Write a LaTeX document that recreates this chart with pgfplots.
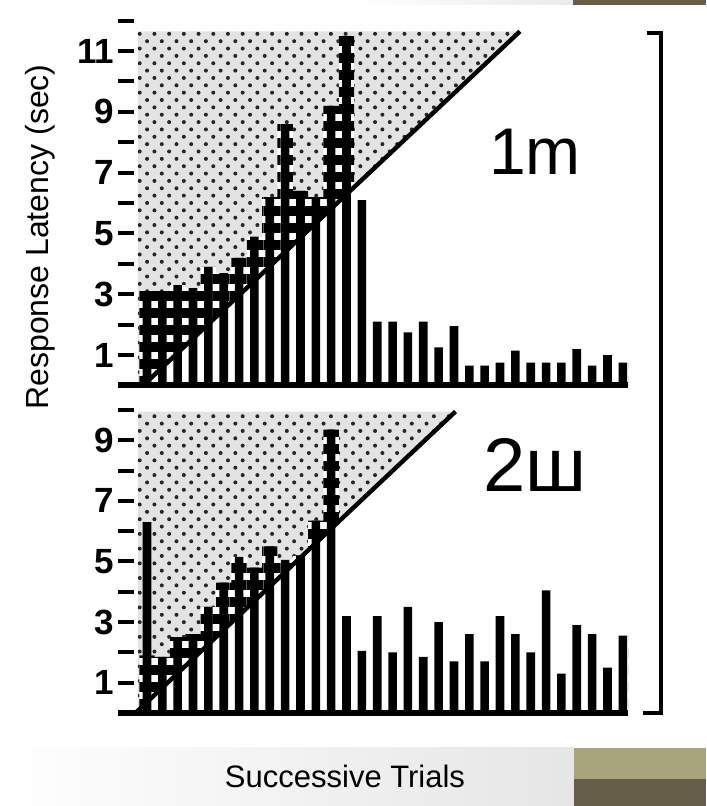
\documentclass[border=0pt]{standalone}
\usepackage{fontspec}
\setmainfont{Liberation Sans}
\usepackage{pgfplots}
\pgfplotsset{compat=1.18}
\usepackage{pgfplotstable}
\usetikzlibrary{patterns.meta}

\definecolor{olivelight}{RGB}{168,164,124}
\definecolor{olivedark}{RGB}{102,94,72}

% i = trial, v = latency, c = top of cross-hatched part
\pgfplotstableread{
i v c
1 3.1 3.1
2 3.1 3.1
3 3.3 3.3
4 3.2 3.2
5 3.9 3.9
6 3.7 3.7
7 4.2 4.2
8 4.9 4.9
9 6.2 6.2
10 8.6 8.6
11 6.4 6.4
12 6.2 6.2
13 9.2 9.2
14 11.5 11.5
15 6.1 6.1
16 2.1 2.1
17 2.1 2.1
18 1.75 1.75
19 2.1 2.1
20 1.25 1.25
21 1.95 1.95
22 0.65 0.65
23 0.65 0.65
24 0.75 0.75
25 1.15 1.15
26 0.75 0.75
27 0.75 0.75
28 0.75 0.75
29 1.2 1.2
30 0.65 0.65
31 1.0 1.0
32 0.75 0.75
}\toptable

\pgfplotstableread{
i v c
1 6.3 1.9
2 1.85 1.85
3 2.5 2.5
4 2.6 2.6
5 3.5 3.5
6 4.3 4.3
7 5.15 5.15
8 4.8 4.8
9 5.5 5.5
10 5.05 5.05
11 5.2 5.2
12 6.35 6.35
13 9.35 9.35
14 3.2 3.2
15 2.05 2.05
16 3.2 3.2
17 2.0 2.0
18 3.5 3.5
19 1.85 1.85
20 3.0 3.0
21 1.7 1.7
22 2.6 2.6
23 1.7 1.7
24 3.2 3.2
25 2.6 2.6
26 2.0 2.0
27 4.05 4.05
28 1.3 1.3
29 2.9 2.9
30 2.6 2.6
31 1.5 1.5
32 2.55 2.55
}\bottable

\newcommand{\px}[2]{({#1*0.5pt},{(806-#2)*0.5pt})}

\pgfplotsset{
  panel/.style={
    scale only axis, width=255.2pt,
    xmin=-0.9, xmax=32.35, ymin=0,
    axis x line*=bottom, axis y line*=left,
    x axis line style={line width=3pt, black},
    y axis line style={draw=none},
    xtick=\empty,
    ytick align=inside, major tick length=8pt,
    ytick style={line width=2pt, black},
    yticklabel style={font=\fontsize{17.5}{17.5}\selectfont\bfseries, inner sep=1.5pt},
    axis on top,
  },
  dotted/.style={draw=none, fill=gray!22,
    postaction={pattern={Dots[angle=45, distance=5.2pt, radius=1pt]}, pattern color=black!85}},
  rung/.style={ybar, bar shift=0pt, bar width=7.7pt, draw=none, fill=white,
    postaction={pattern={Lines[angle=0, distance=8.5pt, line width=5.2pt]}, pattern color=black}},
  narrow/.style={ybar, bar shift=0pt, bar width=4.3pt, draw=none, fill=black},
}

\begin{document}
\begin{tikzpicture}
\path[use as bounding box] (0,0) rectangle (353pt,403pt);
% slide decorations
\shade[left color=white, right color=black!10] \px{0}{748} rectangle \px{574}{806};
\fill[olivelight] \px{574}{748} rectangle \px{706}{779};
\fill[olivedark] \px{574}{779} rectangle \px{706}{806};
\shade[left color=white, right color=black!8] \px{350}{0} rectangle \px{573}{5};
\fill[olivedark] \px{573}{0} rectangle \px{706}{5};

% top panel
\begin{axis}[panel, at={(58.9pt,210.25pt)}, anchor=south west,
  height=182.4pt, ymax=12,
  ytick={1,2,3,4,5,6,7,8,9,10,11,12}, yticklabels={1,,3,,5,,7,,9,,11,}]
\addplot[dotted] coordinates {(0.4,0) (0.74,0) (25.3,11.65) (0.4,11.65)} -- cycle;
\addplot[rung] table[x=i, y=c] {\toptable};
\addplot[fill=white, draw=none] coordinates {(0.74,0) (25.3,11.65) (25.3,12) (32.35,12) (32.35,0)} -- cycle;
\addplot[narrow] table[x=i, y=v] {\toptable};
\addplot[line width=2.2pt, black] coordinates {(0.74,0) (25.3,11.65)};
\end{axis}

% bottom panel
\begin{axis}[panel, at={(58.9pt,46.5pt)}, anchor=south west,
  height=151.5pt, ymax=10,
  ytick={1,2,3,4,5,6,7,8,9,10}, yticklabels={1,,3,,5,,7,,9,}]
\addplot[dotted] coordinates {(0.4,0) (0.4,0.07) (21.1,9.95) (0.4,9.95)} -- cycle;
\addplot[rung] table[x=i, y=c] {\bottable};
\addplot[fill=white, draw=none] coordinates {(0.25,0) (21.1,9.95) (21.1,10) (32.35,10) (32.35,0)} -- cycle;
\addplot[narrow] table[x=i, y=v] {\bottable};
\addplot[line width=2.2pt, black] coordinates {(0.25,0) (21.1,9.95)};
\end{axis}

% bracket
\draw[line width=1.6pt] \px{647}{33} -- \px{661}{33} -- \px{661}{713} -- \px{643}{713};

% labels
\node[anchor=base, font=\fontsize{33}{33}\selectfont] at \px{535}{175} {1m};
\node[anchor=base, font=\fontsize{38}{38}\selectfont] at \px{535}{492} {2ш};
\node[rotate=90, font=\fontsize{16}{16}\selectfont] at \px{40}{237} {Response Latency (sec)};
\node[font=\fontsize{15.5}{16}\selectfont] at \px{345}{776} {Successive Trials};
\end{tikzpicture}
\end{document}
